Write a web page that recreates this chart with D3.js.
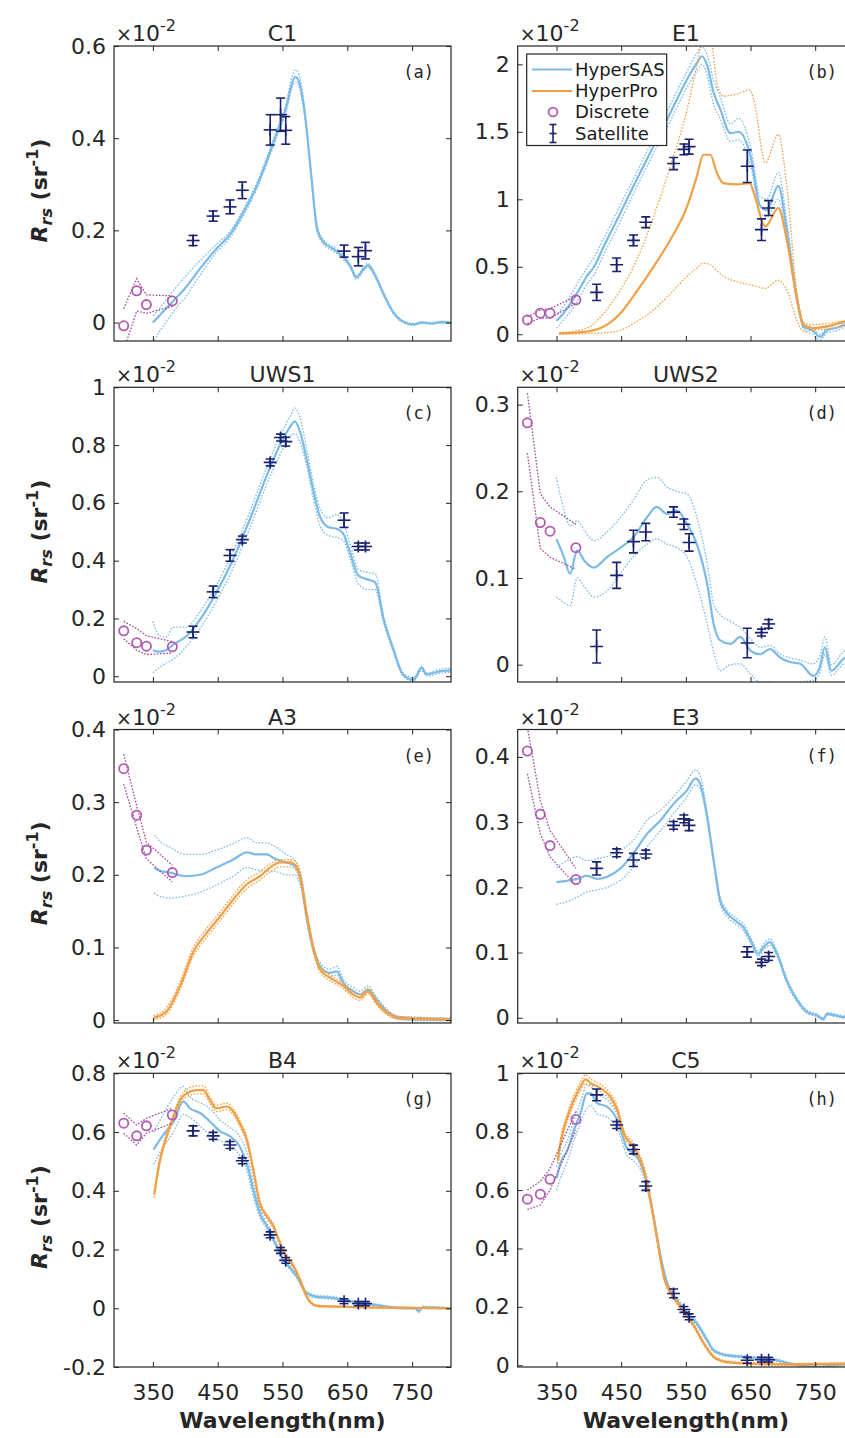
<!DOCTYPE html>
<html><head><meta charset="utf-8">
<script src="https://cdn.jsdelivr.net/npm/d3@7"></script>
<style>
html,body{margin:0;padding:0;background:#fff;}
svg{display:block;font-family:"DejaVu Sans",sans-serif;}
</style></head><body>
<svg id="chart" width="845" height="1438"></svg>
<script>
// ---------------- DATA (x 10^-2 sr^-1) ----------------
const xTicks = [350, 450, 550, 650, 750];
const discWl = [305, 325, 340, 380];
const satWl = [412, 443, 469, 488, 531, 547, 555, 645, 667, 678];

const titles = ["C1", "E1", "UWS1", "UWS2", "A3", "E3", "B4", "C5"];
const panelLabels = ["(a)", "(b)", "(c)", "(d)", "(e)", "(f)", "(g)", "(h)"];
const legendLabels = ["HyperSAS", "HyperPro", "Discrete", "Satellite"];

const yTicksC1 = [0, 0.2, 0.4, 0.6];
const yTicksE1 = [0, 0.5, 1, 1.5, 2];
const yTicksUWS1 = [0, 0.2, 0.4, 0.6, 0.8, 1];
const yTicksUWS2 = [0, 0.1, 0.2, 0.3];
const yTicksA3 = [0, 0.1, 0.2, 0.3, 0.4];
const yTicksE3 = [0, 0.1, 0.2, 0.3, 0.4];
const yTicksB4 = [-0.2, 0, 0.2, 0.4, 0.6, 0.8];
const yTicksC5 = [0, 0.2, 0.4, 0.6, 0.8, 1];

// HyperSAS / HyperPro: [wavelength, mean, lower, upper]
const sasC1 = [[350,0.00,-0.045,0.015],[360,0.015,-0.02,0.03],[370,0.03,0.0,0.048],[385,0.052,0.03,0.075],[400,0.075,0.055,0.1],[420,0.112,0.097,0.13],[448,0.16,0.152,0.17],[470,0.193,0.186,0.2],[490,0.24,0.233,0.247],[510,0.295,0.288,0.302],[526,0.352,0.345,0.36],[541,0.41,0.402,0.418],[556,0.468,0.46,0.478],[565,0.52,0.51,0.535],[570,0.533,0.522,0.548],[577,0.515,0.505,0.53],[585,0.447,0.44,0.456],[595,0.31,0.304,0.316],[603,0.207,0.2,0.213],[613,0.175,0.17,0.18],[628,0.16,0.155,0.165],[644,0.142,0.137,0.147],[654,0.124,0.12,0.128],[664,0.098,0.094,0.102],[675,0.116,0.112,0.12],[682,0.124,0.12,0.128],[693,0.102,0.098,0.106],[706,0.062,0.058,0.066],[721,0.022,0.019,0.025],[736,0.002,0.0,0.004],[752,-0.004,-0.006,-0.002],[765,0.0,-0.002,0.002],[780,-0.002,-0.004,0.0],[795,0.001,-0.001,0.003],[810,0.0,-0.002,0.002]];
const discC1 = [-0.007, 0.069, 0.039, 0.047];
const discC1Lo = [-0.06, 0.025, 0.02, 0.035];
const discC1Hi = [0.03, 0.095, 0.06, 0.058];
const satC1 = [0.178, 0.231, 0.251, 0.287, 0.418, 0.451, 0.417, 0.155, 0.143, 0.156];
const satC1Err = [0.011, 0.011, 0.015, 0.018, 0.033, 0.036, 0.03, 0.013, 0.02, 0.018];

const sasE1 = [[350,0.10,0.045,0.14],[360,0.15,0.10,0.20],[372,0.23,0.17,0.29],[385,0.33,0.27,0.40],[397,0.43,0.37,0.49],[408,0.5,0.44,0.57],[423,0.65,0.59,0.71],[449,0.9,0.84,0.96],[474,1.146,1.09,1.2],[500,1.393,1.34,1.45],[526,1.64,1.58,1.7],[552,1.89,1.83,1.95],[567,2.01,1.95,2.08],[575,2.06,2.0,2.13],[583,1.99,1.92,2.07],[593,1.79,1.70,1.88],[603,1.67,1.6,1.76],[619,1.49,1.43,1.56],[632,1.5,1.44,1.6],[650,1.32,1.25,1.39],[665,0.95,0.9,1.02],[675,0.92,0.87,1.0],[693,1.1,1.0,1.2],[706,0.775,0.72,0.84],[722,0.255,0.23,0.29],[732,0.057,0.04,0.08],[745,0.03,0.0,0.05],[758,-0.02,-0.04,0.0],[768,0.03,0.01,0.05],[785,0.05,0.03,0.07],[800,0.08,0.06,0.1],[810,0.09,0.07,0.11]];
const proE1 = [[354,0.007,0.0,0.01],[397,0.02,0.005,0.045],[423,0.057,0.01,0.156],[449,0.156,0.03,0.33],[474,0.317,0.094,0.55],[500,0.5,0.18,0.87],[526,0.7,0.3,1.245],[552,0.948,0.43,1.666],[567,1.17,0.49,1.99],[577,1.33,0.527,2.2],[588,1.33,0.515,2.2],[598,1.195,0.47,1.86],[608,1.12,0.43,1.765],[629,1.11,0.39,1.78],[649,1.12,0.366,1.81],[655,1.047,0.36,1.74],[673,0.8,0.34,1.27],[693,0.935,0.4,1.48],[706,0.7,0.33,1.1],[722,0.255,0.1,0.3],[732,0.07,0.02,0.09],[745,0.045,0.03,0.07],[770,0.06,0.04,0.08],[796,0.094,0.06,0.1],[810,0.1,0.065,0.11]];
const discE1 = [0.106, 0.156, 0.156, 0.255];
const discE1Lo = [0.08, 0.12, 0.12, 0.23];
const discE1Hi = [0.13, 0.18, 0.19, 0.28];
const satE1 = [0.31, 0.515, 0.696, 0.83, 1.265, 1.37, 1.39, 1.245, 0.775, 0.935];
const satE1Err = [0.06, 0.05, 0.04, 0.04, 0.045, 0.04, 0.055, 0.12, 0.08, 0.055];

const sasUWS1 = [[350,0.09,0.012,0.19],[360,0.085,0.03,0.14],[370,0.09,0.045,0.135],[382,0.11,0.06,0.17],[402,0.139,0.104,0.17],[423,0.197,0.165,0.225],[448,0.29,0.26,0.315],[474,0.406,0.375,0.432],[500,0.545,0.515,0.572],[526,0.696,0.666,0.725],[546,0.8,0.766,0.83],[562,0.864,0.83,0.9],[569,0.882,0.84,0.928],[577,0.847,0.81,0.895],[587,0.754,0.73,0.79],[598,0.638,0.61,0.665],[608,0.551,0.52,0.58],[621,0.516,0.487,0.548],[634,0.51,0.48,0.56],[644,0.493,0.47,0.53],[654,0.43,0.41,0.46],[667,0.348,0.32,0.37],[680,0.336,0.3,0.36],[693,0.325,0.3,0.355],[706,0.197,0.185,0.21],[721,0.093,0.085,0.1],[736,0.006,0.0,0.012],[752,-0.012,-0.018,-0.005],[765,0.029,0.02,0.035],[772,0.006,0.0,0.012],[793,0.017,0.01,0.024],[810,0.02,0.014,0.028]];
const discUWS1 = [0.157, 0.116, 0.104, 0.102];
const discUWS1Lo = [0.13, 0.09, 0.075, 0.08];
const discUWS1Hi = [0.19, 0.165, 0.14, 0.12];
const satUWS1 = [0.153, 0.292, 0.418, 0.473, 0.74, 0.826, 0.812, 0.54, 0.449, 0.449];
const satUWS1Err = [0.02, 0.02, 0.02, 0.012, 0.012, 0.012, 0.015, 0.025, 0.012, 0.012];

const sasUWS2 = [[350,0.145,0.078,0.216],[361,0.125,0.072,0.18],[371,0.105,0.068,0.16],[382,0.132,0.1,0.166],[393,0.12,0.09,0.155],[408,0.112,0.078,0.143],[428,0.124,0.085,0.153],[449,0.135,0.105,0.17],[469,0.147,0.125,0.19],[490,0.17,0.139,0.213],[505,0.182,0.145,0.216],[521,0.174,0.139,0.205],[536,0.178,0.135,0.2],[552,0.162,0.124,0.197],[567,0.139,0.093,0.17],[583,0.093,0.047,0.116],[593,0.047,0.015,0.07],[603,0.028,-0.007,0.058],[619,0.024,0.0,0.05],[634,0.032,0.001,0.043],[650,0.016,-0.011,0.03],[665,0.012,-0.02,0.02],[680,0.018,-0.02,0.022],[696,0.008,-0.022,0.012],[711,0.003,-0.022,0.008],[727,0.001,-0.02,0.005],[747,-0.013,-0.018,0.001],[757,-0.003,-0.01,0.01],[765,0.02,0.012,0.032],[775,-0.007,-0.012,0.0],[796,0.008,0.002,0.016],[810,0.01,0.004,0.018]];
const discUWS2 = [0.279, 0.164, 0.154, 0.135];
const discUWS2Lo = [0.244, 0.134, 0.124, 0.11];
const discUWS2Hi = [0.313, 0.197, 0.182, 0.162];
const satUWS2 = [0.021, 0.103, 0.142, 0.153, 0.176, 0.162, 0.141, 0.025, 0.037, 0.047];
const satUWS2Err = [0.019, 0.015, 0.013, 0.01, 0.006, 0.006, 0.01, 0.017, 0.004, 0.005];

const sasA3 = [[352,0.21,0.175,0.255],[362,0.205,0.17,0.245],[376,0.203,0.168,0.238],[402,0.198,0.171,0.228],[423,0.2,0.176,0.228],[448,0.21,0.186,0.234],[474,0.221,0.198,0.243],[495,0.231,0.21,0.251],[510,0.228,0.207,0.244],[526,0.228,0.205,0.244],[536,0.223,0.205,0.24],[556,0.217,0.2,0.228],[569,0.212,0.2,0.22],[580,0.184,0.175,0.194],[587,0.143,0.137,0.15],[598,0.097,0.092,0.102],[608,0.074,0.07,0.079],[623,0.065,0.06,0.07],[634,0.067,0.062,0.074],[644,0.051,0.047,0.056],[659,0.04,0.036,0.045],[670,0.035,0.031,0.04],[682,0.042,0.038,0.047],[695,0.028,0.024,0.032],[711,0.012,0.009,0.015],[731,0.003,0.001,0.005],[760,0.001,-0.001,0.004],[810,0.001,-0.001,0.003]];
const proA3 = [[351,0.003,0.0,0.006],[371,0.012,0.008,0.017],[392,0.047,0.042,0.053],[412,0.093,0.087,0.099],[433,0.12,0.114,0.126],[454,0.143,0.137,0.149],[474,0.166,0.16,0.172],[495,0.187,0.181,0.193],[515,0.198,0.193,0.204],[531,0.21,0.204,0.215],[546,0.217,0.211,0.221],[562,0.217,0.211,0.221],[569,0.214,0.208,0.219],[577,0.198,0.193,0.204],[587,0.148,0.143,0.153],[598,0.097,0.093,0.101],[608,0.07,0.066,0.074],[628,0.056,0.052,0.06],[644,0.047,0.043,0.051],[659,0.035,0.031,0.039],[670,0.031,0.027,0.035],[682,0.04,0.036,0.044],[695,0.024,0.021,0.028],[711,0.01,0.007,0.013],[731,0.003,0.001,0.005],[810,0.001,0.0,0.002]];
const discA3 = [0.346, 0.282, 0.234, 0.203];
const discA3Lo = [0.325, 0.265, 0.222, 0.19];
const discA3Hi = [0.366, 0.295, 0.245, 0.213];

const sasE3 = [[350,0.208,0.174,0.23],[366,0.21,0.178,0.241],[382,0.213,0.185,0.247],[397,0.218,0.193,0.241],[413,0.213,0.196,0.244],[428,0.216,0.2,0.247],[449,0.229,0.211,0.257],[469,0.252,0.231,0.272],[490,0.282,0.262,0.303],[511,0.303,0.287,0.318],[531,0.328,0.313,0.339],[552,0.349,0.339,0.364],[565,0.367,0.357,0.38],[572,0.359,0.351,0.372],[583,0.308,0.302,0.314],[593,0.241,0.236,0.246],[603,0.18,0.175,0.185],[614,0.16,0.155,0.165],[629,0.147,0.142,0.152],[639,0.139,0.134,0.144],[650,0.119,0.114,0.124],[662,0.098,0.094,0.103],[670,0.108,0.104,0.113],[680,0.116,0.111,0.121],[691,0.098,0.094,0.103],[706,0.057,0.053,0.061],[722,0.027,0.024,0.03],[737,0.009,0.007,0.012],[752,0.004,0.002,0.006],[763,-0.002,-0.004,0.0],[768,0.006,0.004,0.008],[796,0.001,-0.001,0.003],[810,0.001,-0.001,0.003]];
const discE3 = [0.409, 0.312, 0.264, 0.212];
const discE3Lo = [0.374, 0.282, 0.247, 0.203];
const discE3Hi = [0.445, 0.333, 0.287, 0.229];
const satE3 = [0.229, 0.253, 0.242, 0.251, 0.295, 0.305, 0.295, 0.101, 0.085, 0.094];
const satE3Err = [0.01, 0.006, 0.01, 0.006, 0.006, 0.006, 0.008, 0.008, 0.005, 0.006];

const sasB4 = [[351,0.54,0.49,0.6],[366,0.59,0.55,0.66],[382,0.636,0.6,0.72],[397,0.704,0.66,0.755],[407,0.681,0.65,0.72],[423,0.664,0.62,0.7],[438,0.636,0.59,0.68],[454,0.602,0.57,0.64],[469,0.585,0.555,0.615],[484,0.551,0.52,0.585],[495,0.494,0.47,0.53],[505,0.403,0.38,0.43],[515,0.324,0.31,0.34],[526,0.279,0.27,0.29],[541,0.211,0.203,0.22],[551,0.165,0.157,0.173],[562,0.137,0.13,0.145],[572,0.109,0.102,0.116],[587,0.052,0.046,0.058],[603,0.039,0.034,0.044],[628,0.035,0.03,0.04],[654,0.024,0.02,0.028],[680,0.016,0.012,0.02],[706,0.007,0.004,0.01],[731,0.001,-0.002,0.004],[755,0.0,-0.003,0.003],[760,-0.01,-0.014,-0.006],[766,0.003,0.0,0.006],[810,0.0,-0.002,0.002]];
const proB4 = [[352,0.386,0.376,0.396],[361,0.505,0.495,0.515],[371,0.585,0.575,0.595],[382,0.653,0.643,0.663],[392,0.709,0.699,0.72],[402,0.732,0.72,0.745],[418,0.743,0.73,0.757],[428,0.743,0.73,0.757],[438,0.709,0.698,0.72],[448,0.681,0.67,0.692],[464,0.687,0.676,0.698],[474,0.67,0.66,0.68],[484,0.63,0.62,0.64],[495,0.573,0.563,0.583],[505,0.471,0.462,0.48],[515,0.358,0.35,0.366],[526,0.313,0.306,0.32],[536,0.279,0.272,0.286],[546,0.222,0.215,0.229],[556,0.177,0.17,0.184],[567,0.143,0.137,0.149],[577,0.097,0.092,0.102],[587,0.041,0.037,0.045],[598,0.012,0.009,0.015],[608,0.007,0.004,0.01],[650,0.005,0.003,0.007],[700,0.002,0.0,0.004],[810,0.0,-0.002,0.002]];
const discB4 = [0.63, 0.587, 0.621, 0.658];
const discB4Lo = [0.596, 0.556, 0.596, 0.63];
const discB4Hi = [0.664, 0.624, 0.647, 0.681];
const satB4 = [0.604, 0.587, 0.556, 0.502, 0.25, 0.197, 0.163, 0.024, 0.016, 0.016];
const satB4Err = [0.017, 0.012, 0.012, 0.01, 0.01, 0.01, 0.01, 0.008, 0.007, 0.007];

const sasC5 = [[350,0.64,0.6,0.68],[356,0.691,0.64,0.72],[367,0.737,0.7,0.77],[377,0.806,0.77,0.84],[387,0.863,0.83,0.9],[397,0.931,0.88,0.96],[403,0.931,0.89,0.96],[413,0.897,0.86,0.93],[428,0.886,0.85,0.91],[444,0.84,0.81,0.86],[459,0.743,0.72,0.77],[469,0.726,0.7,0.745],[480,0.691,0.67,0.71],[490,0.623,0.61,0.64],[500,0.509,0.5,0.52],[511,0.371,0.36,0.38],[521,0.28,0.272,0.29],[536,0.223,0.215,0.232],[552,0.177,0.17,0.185],[567,0.143,0.136,0.15],[583,0.086,0.08,0.092],[593,0.051,0.046,0.056],[614,0.034,0.03,0.038],[639,0.029,0.025,0.033],[665,0.023,0.019,0.027],[691,0.017,0.013,0.021],[711,0.006,0.003,0.009],[758,-0.006,-0.009,-0.003],[796,0.003,0.0,0.006],[810,0.003,0.0,0.006]];
const proC5 = [[352,0.7,0.69,0.71],[356,0.76,0.748,0.772],[367,0.851,0.838,0.864],[377,0.909,0.895,0.925],[387,0.954,0.94,0.97],[395,0.979,0.965,0.995],[403,0.966,0.952,0.98],[418,0.949,0.936,0.962],[433,0.92,0.908,0.932],[444,0.874,0.862,0.886],[454,0.794,0.782,0.806],[469,0.749,0.738,0.76],[485,0.669,0.659,0.679],[495,0.566,0.557,0.575],[505,0.44,0.432,0.448],[516,0.303,0.296,0.31],[531,0.234,0.227,0.241],[547,0.183,0.177,0.189],[562,0.137,0.131,0.143],[578,0.074,0.069,0.079],[593,0.029,0.025,0.033],[614,0.011,0.008,0.014],[650,0.006,0.003,0.009],[700,0.003,0.0,0.006],[810,0.006,0.003,0.009]];
const discC5 = [0.569, 0.586, 0.637, 0.842];
const discC5Lo = [0.534, 0.549, 0.6, 0.806];
const discC5Hi = [0.6, 0.63, 0.674, 0.869];
const satC5 = [0.926, 0.823, 0.739, 0.614, 0.246, 0.191, 0.166, 0.017, 0.019, 0.019];
const satC5Err = [0.02, 0.012, 0.015, 0.015, 0.015, 0.01, 0.01, 0.01, 0.008, 0.008];

// ---------------- LAYOUT ----------------
const xDomain = [290, 810];
const colX = [[114, 451], [517.7, 854]];
const rowY = [[46, 341], [387.3, 682], [729.5, 1023], [1073.3, 1367]];
const C = {sas: "#7dbbe7", pro: "#f2a045", disc: "#b25cb2", discLine: "#9c4c9c", sat: "#1a2270", ink: "#262626"};

const panels = [
  {yDom: [-0.04, 0.6], yTicks: yTicksC1, sas: sasC1, pro: null, disc: [discC1, discC1Lo, discC1Hi], sat: [satC1, satC1Err]},
  {yDom: [-0.05, 2.136], yTicks: yTicksE1, sas: sasE1, pro: proE1, disc: [discE1, discE1Lo, discE1Hi], sat: [satE1, satE1Err]},
  {yDom: [-0.02, 1], yTicks: yTicksUWS1, sas: sasUWS1, pro: null, disc: [discUWS1, discUWS1Lo, discUWS1Hi], sat: [satUWS1, satUWS1Err]},
  {yDom: [-0.02, 0.32], yTicks: yTicksUWS2, sas: sasUWS2, pro: null, disc: [discUWS2, discUWS2Lo, discUWS2Hi], sat: [satUWS2, satUWS2Err]},
  {yDom: [-0.004, 0.4], yTicks: yTicksA3, sas: sasA3, pro: proA3, disc: [discA3, discA3Lo, discA3Hi], sat: null},
  {yDom: [-0.008, 0.442], yTicks: yTicksE3, sas: sasE3, pro: null, disc: [discE3, discE3Lo, discE3Hi], sat: [satE3, satE3Err]},
  {yDom: [-0.2, 0.8], yTicks: yTicksB4, sas: sasB4, pro: proB4, disc: [discB4, discB4Lo, discB4Hi], sat: [satB4, satB4Err]},
  {yDom: [-0.006, 1], yTicks: yTicksC5, sas: sasC5, pro: proC5, disc: [discC5, discC5Lo, discC5Hi], sat: [satC5, satC5Err]}
];

const svg = d3.select("#chart");
svg.append("rect").attr("width", 845).attr("height", 1438).attr("fill", "#fff");
const defs = svg.append("defs");
const fmt = d => String(+d.toFixed(2));

function drawSeries(g, x, y, data, color) {
  const mk = idx => d3.line().x(d => x(d[0])).y(d => y(d[idx])).curve(d3.curveMonotoneX);
  [2, 3].forEach(idx => g.append("path").datum(data).attr("d", mk(idx))
    .attr("fill", "none").attr("stroke", color).attr("stroke-width", 1.3).attr("stroke-dasharray", "1.6,1.6"));
  g.append("path").datum(data).attr("d", mk(1))
    .attr("fill", "none").attr("stroke", color).attr("stroke-width", 2.2).attr("stroke-linejoin", "round");
}

function satMarker(g, cx, cy, yLo, yHi, col) {
  const s = g.append("g").attr("stroke", col).attr("stroke-width", 1.6).attr("fill", "none");
  s.append("line").attr("x1", cx).attr("x2", cx).attr("y1", Math.min(yLo, cy + 6)).attr("y2", Math.max(yHi, cy - 6) === yHi ? yHi : cy - 6);
  s.append("line").attr("x1", cx).attr("x2", cx).attr("y1", yLo).attr("y2", yHi);
  s.append("line").attr("x1", cx).attr("x2", cx).attr("y1", cy - 6).attr("y2", cy + 6);
  s.append("line").attr("x1", cx - 4.5).attr("x2", cx + 4.5).attr("y1", yLo).attr("y2", yLo);
  s.append("line").attr("x1", cx - 4.5).attr("x2", cx + 4.5).attr("y1", yHi).attr("y2", yHi);
  s.append("line").attr("x1", cx - 6.5).attr("x2", cx + 6.5).attr("y1", cy).attr("y2", cy);
}

panels.forEach((p, i) => {
  const col = i % 2, row = Math.floor(i / 2);
  const [x0, x1] = colX[col], [y0, y1] = rowY[row];
  const x = d3.scaleLinear().domain(xDomain).range([x0, x1]);
  const y = d3.scaleLinear().domain(p.yDom).range([y1, y0]);
  const cid = "clip" + i;
  defs.append("clipPath").attr("id", cid).append("rect")
    .attr("x", x0).attr("y", y0).attr("width", x1 - x0).attr("height", y1 - y0);

  const g = svg.append("g");
  const plot = g.append("g").attr("clip-path", `url(#${cid})`);

  drawSeries(plot, x, y, p.sas, C.sas);
  if (p.pro) drawSeries(plot, x, y, p.pro, C.pro);

  // discrete
  const [dv, dlo, dhi] = p.disc;
  const dl = arr => d3.line().x((d, k) => x(discWl[k])).y(d => y(d))(arr);
  [dlo, dhi].forEach(arr => plot.append("path").attr("d", dl(arr)).attr("fill", "none")
    .attr("stroke", C.discLine).attr("stroke-width", 1.3).attr("stroke-dasharray", "1.6,1.6"));
  plot.selectAll(null).data(dv).join("circle")
    .attr("cx", (d, k) => x(discWl[k])).attr("cy", d => y(d)).attr("r", 4.6)
    .attr("fill", "none").attr("stroke", C.disc).attr("stroke-width", 1.8);

  // satellite
  if (p.sat) {
    const [sv, se] = p.sat;
    sv.forEach((v, k) => {
      const cx = x(satWl[k]);
      const s = plot.append("g").attr("stroke", C.sat).attr("stroke-width", 1.6).attr("fill", "none");
      const yl = y(v - se[k]), yh = y(v + se[k]), cy = y(v);
      s.append("line").attr("x1", cx).attr("x2", cx).attr("y1", yl).attr("y2", yh);
      s.append("line").attr("x1", cx).attr("x2", cx).attr("y1", cy - 6).attr("y2", cy + 6);
      s.append("line").attr("x1", cx - 4.5).attr("x2", cx + 4.5).attr("y1", yl).attr("y2", yl);
      s.append("line").attr("x1", cx - 4.5).attr("x2", cx + 4.5).attr("y1", yh).attr("y2", yh);
      s.append("line").attr("x1", cx - 6.5).attr("x2", cx + 6.5).attr("y1", cy).attr("y2", cy);
    });
  }

  // axes
  const ax = g.append("g");
  ax.append("g").attr("transform", `translate(${x0},0)`)
    .call(d3.axisLeft(y).tickValues(p.yTicks).tickSize(-5).tickPadding(8).tickFormat(fmt));
  ax.append("g").attr("transform", `translate(${x1},0)`)
    .call(d3.axisRight(y).tickValues(p.yTicks).tickSize(-5).tickFormat(() => ""));
  ax.append("g").attr("transform", `translate(0,${y0})`)
    .call(d3.axisTop(x).tickValues(xTicks).tickSize(-5).tickFormat(() => ""));
  ax.append("g").attr("transform", `translate(0,${y1})`)
    .call(d3.axisBottom(x).tickValues(xTicks).tickSize(-5).tickPadding(17)
      .tickFormat(row === 3 ? d => String(d) : () => ""));
  ax.selectAll(".domain").remove();
  ax.selectAll(".tick line").attr("stroke", C.ink).attr("stroke-width", 1);
  ax.selectAll(".tick text").attr("font-size", 22).attr("fill", C.ink)
    .attr("font-family", "DejaVu Sans, sans-serif");
  g.append("rect").attr("x", x0).attr("y", y0).attr("width", x1 - x0).attr("height", y1 - y0)
    .attr("fill", "none").attr("stroke", C.ink).attr("stroke-width", 1.2);

  // title
  g.append("text").attr("x", (x0 + x1) / 2).attr("y", y0 - 5).attr("text-anchor", "middle")
    .attr("font-size", 22).attr("fill", C.ink).text(titles[i]);
  // exponent
  const ex = g.append("text").attr("x", x0 + 2).attr("y", y0 - 5).attr("fill", C.ink).attr("font-size", 22);
  ex.append("tspan").attr("font-size", 19).text("×");
  ex.append("tspan").text("10");
  ex.append("tspan").attr("font-size", 16).attr("dy", -10).text("-2");
  // panel label
  g.append("text").attr("x", x1 - 17).attr("y", y0 + 32).attr("text-anchor", "end")
    .attr("font-family", "DejaVu Sans Mono, monospace").attr("font-size", 17).attr("fill", C.ink)
    .text(panelLabels[i]);

  // y label
  if (col === 0) {
    const cy = (y0 + y1) / 2 - 3;
    const t = g.append("text").attr("transform", `translate(47,${cy}) rotate(-90)`)
      .attr("text-anchor", "middle").attr("font-size", 22).attr("font-weight", "bold").attr("fill", C.ink);
    t.append("tspan").attr("font-style", "italic").text("R");
    t.append("tspan").attr("font-style", "italic").attr("font-size", 16).attr("dy", 5).text("rs");
    t.append("tspan").attr("dy", -5).text(" (sr");
    t.append("tspan").attr("font-size", 16).attr("dy", -9).text("-1");
    t.append("tspan").attr("dy", 9).text(")");
  }
  // x label
  if (row === 3) {
    g.append("text").attr("x", (x0 + x1) / 2).attr("y", 1428).attr("text-anchor", "middle")
      .attr("font-size", 22).attr("font-weight", "bold").attr("fill", C.ink).text("Wavelength(nm)");
  }

  // legend in panel (b)
  if (i === 1) {
    const L = g.append("g");
    L.append("rect").attr("x", 526.7).attr("y", 54).attr("width", 140).attr("height", 91.5)
      .attr("fill", "#fff").attr("stroke", C.ink).attr("stroke-width", 1.2);
    const rows = [69.5, 91, 112, 133.5];
    L.append("line").attr("x1", 532).attr("x2", 572).attr("y1", rows[0]).attr("y2", rows[0])
      .attr("stroke", C.sas).attr("stroke-width", 2.2);
    L.append("line").attr("x1", 532).attr("x2", 572).attr("y1", rows[1]).attr("y2", rows[1])
      .attr("stroke", C.pro).attr("stroke-width", 2.2);
    L.append("circle").attr("cx", 553).attr("cy", rows[2]).attr("r", 4.4)
      .attr("fill", "none").attr("stroke", C.disc).attr("stroke-width", 1.8);
    const s = L.append("g").attr("stroke", C.sat).attr("stroke-width", 1.6);
    const cx = 553, cy = rows[3];
    s.append("line").attr("x1", cx).attr("x2", cx).attr("y1", cy - 9).attr("y2", cy + 9);
    s.append("line").attr("x1", cx - 3.5).attr("x2", cx + 3.5).attr("y1", cy - 9).attr("y2", cy - 9);
    s.append("line").attr("x1", cx - 3.5).attr("x2", cx + 3.5).attr("y1", cy + 9).attr("y2", cy + 9);
    s.append("line").attr("x1", cx - 3.5).attr("x2", cx + 3.5).attr("y1", cy).attr("y2", cy);
    legendLabels.forEach((lab, k) => L.append("text").attr("x", 575).attr("y", rows[k]).attr("dy", "0.36em")
      .attr("font-size", 18).attr("fill", "#1a1a1a").text(lab));
  }
});
</script>
</body></html>
